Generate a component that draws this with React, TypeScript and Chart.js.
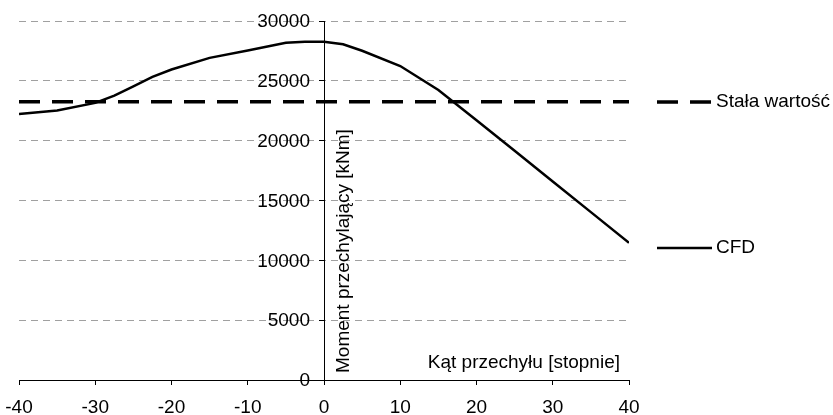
import React, { useEffect, useRef } from "react";
import { Chart, registerables } from "chart.js";

Chart.register(...registerables);

// ---- data ----
const angles = [-40, -35, -30, -27.5, -25, -22.5, -20, -15, -10, -5, -2.5, 0, 2.5, 5, 10, 15, 20, 25, 30, 35, 40];
const cfdMoments = [22230, 22530, 23160, 23770, 24530, 25330, 25950, 26920, 27540, 28180, 28260, 28270, 28050, 27510, 26240, 24230, 21700, 19150, 16580, 14030, 11470];
const constAngles = [-40, 40];
const constMoments = [23250, 23250];
const xTickValues = [-40, -30, -20, -10, 0, 10, 20, 30, 40];
const yTickValues = [0, 5000, 10000, 15000, 20000, 25000, 30000];
const seriesNames = ["Stała wartość", "CFD"];
const xTitle = "Kąt przechyłu [stopnie]";
const yTitle = "Moment przechylający [kNm]";

const FONT = '"Liberation Sans", Arial, sans-serif';
const FS = 19;

const overlay = {
  id: "overlay",
  afterDraw(chart: any) {
    const { ctx } = chart;
    const x = chart.scales.x;
    const y = chart.scales.y;
    const x0 = x.getPixelForValue(0);
    ctx.save();
    ctx.fillStyle = "#000";
    ctx.font = `${FS}px ${FONT}`;
    // y tick labels (left of the centred axis)
    ctx.textAlign = "right";
    ctx.textBaseline = "middle";
    yTickValues.forEach((v) => {
      ctx.fillText(String(v), x0 - 14, y.getPixelForValue(v) + 1);
    });
    // x-axis title
    ctx.textAlign = "right";
    ctx.textBaseline = "alphabetic";
    ctx.fillText(xTitle, x.right - 9, y.bottom - 12);
    // y-axis title
    ctx.save();
    ctx.translate(x0 + 20, y.bottom - 7);
    ctx.rotate(-Math.PI / 2);
    ctx.textAlign = "left";
    ctx.textBaseline = "middle";
    ctx.fillText(yTitle, 0, 0);
    ctx.restore();
    // legend
    const items = [
      { name: seriesNames[0], yPx: 102, dash: [21, 12], width: 3.5 },
      { name: seriesNames[1], yPx: 248, dash: [], width: 2.5 },
    ];
    items.forEach((it) => {
      ctx.save();
      ctx.strokeStyle = "#000";
      ctx.lineWidth = it.width;
      ctx.setLineDash(it.dash);
      ctx.beginPath();
      ctx.moveTo(657, it.yPx);
      ctx.lineTo(712, it.yPx);
      ctx.stroke();
      ctx.restore();
      ctx.textAlign = "left";
      ctx.textBaseline = "middle";
      ctx.fillText(it.name, 716, it.yPx);
    });
    ctx.restore();
  },
};

export default function App() {
  const ref = useRef<HTMLCanvasElement | null>(null);
  useEffect(() => {
    document.body.style.margin = "0";
    const canvas = ref.current;
    if (!canvas) return;
    const chart = new Chart(canvas, {
      type: "line",
      data: {
        datasets: [
          {
            label: seriesNames[0],
            data: constAngles.map((a, i) => ({ x: a, y: constMoments[i] })),
            borderColor: "#000",
            borderWidth: 3.5,
            borderDash: [21, 12],
            pointRadius: 0,
            tension: 0,
            fill: false,
          },
          {
            label: seriesNames[1],
            data: angles.map((a, i) => ({ x: a, y: cfdMoments[i] })),
            borderColor: "#000",
            borderWidth: 2.5,
            pointRadius: 0,
            tension: 0,
            fill: false,
          },
        ],
      },
      options: {
        responsive: false,
        animation: false,
        layout: { padding: { left: 19, right: 204, top: 21, bottom: 0 } },
        plugins: { legend: { display: false }, tooltip: { enabled: false } },
        scales: {
          x: {
            type: "linear",
            position: "bottom",
            min: -40,
            max: 40,
            afterBuildTicks: (s: any) => {
              s.ticks = xTickValues.map((v) => ({ value: v }));
            },
            afterFit: (s: any) => {
              s.height = 35;
              s.paddingLeft = 0;
              s.paddingRight = 0;
            },
            grid: { display: true, drawOnChartArea: false, drawTicks: true, tickLength: 5, tickColor: "#000", tickWidth: 1 },
            border: { display: true, color: "#000", width: 1 },
            ticks: { color: "#000", font: { family: FONT, size: FS }, padding: 11, maxRotation: 0, autoSkip: false },
          },
          y: {
            type: "linear",
            position: { x: 0 } as any,
            min: 0,
            max: 30000,
            afterBuildTicks: (s: any) => {
              s.ticks = yTickValues.map((v) => ({ value: v }));
            },
            afterFit: (s: any) => {
              s.paddingTop = 0;
              s.paddingBottom = 0;
              s.paddingLeft = 0;
              s.paddingRight = 0;
            },
            grid: {
              display: true,
              drawOnChartArea: true,
              drawTicks: true,
              tickLength: 5,
              tickColor: "#000",
              tickWidth: 1,
              tickBorderDash: [],
              color: (c: any) => (c.tick && c.tick.value === 0 ? "rgba(0,0,0,0)" : "#a0a0a0"),
              lineWidth: 1,
            },
            border: { display: true, color: "#000", width: 1, dash: [7, 5] },
            ticks: { display: false },
          },
        },
      } as any,
      plugins: [overlay],
    });
    return () => chart.destroy();
  }, []);
  return (
    <div style={{ width: 833, height: 415 }}>
      <canvas ref={ref} width={833} height={415} style={{ display: "block" }} />
    </div>
  );
}
